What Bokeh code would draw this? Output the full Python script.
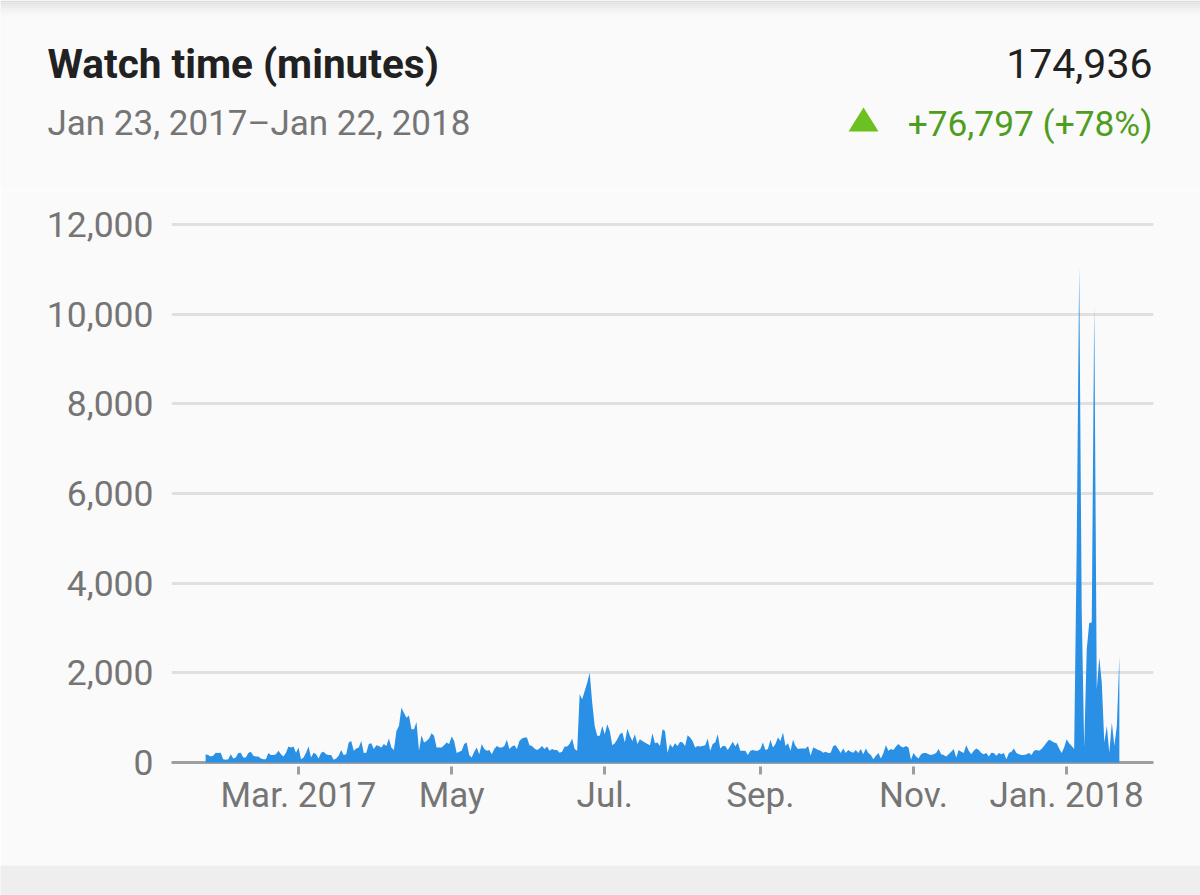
from bokeh.core.properties import value
from bokeh.embed import file_html
from bokeh.layouts import column
from bokeh.models import ColumnDataSource, FixedTicker, NumeralTickFormatter, Range1d
from bokeh.plotting import figure
from bokeh.resources import INLINE

title_text = "Watch time (minutes)"
date_text = "Jan 23, 2017\u2013Jan 22, 2018"
total_text = "174,936"
change_text = "+76,797 (+78%)"

y_ticks = [0, 2000, 4000, 6000, 8000, 10000, 12000]
# days since Jan 23, 2017
x_ticks = [37, 98, 159, 221, 282, 343]
x_labels = ["Mar. 2017", "May", "Jul.", "Sep.", "Nov.", "Jan. 2018"]

# daily watch time
watch_minutes = [
    185, 165, 135, 150, 220, 210, 220, 75, 60, 75,
    185, 90, 110, 210, 220, 110, 110, 210, 240, 150,
    135, 135, 90, 75, 75, 210, 165, 165, 185, 260,
    185, 135, 220, 355, 335, 355, 220, 335, 75, 110,
    220, 355, 110, 220, 185, 90, 220, 240, 185, 165,
    165, 60, 90, 150, 280, 165, 185, 445, 480, 260,
    310, 335, 480, 210, 220, 410, 430, 300, 385, 370,
    335, 410, 370, 535, 335, 280, 705, 815, 1220, 1110,
    1000, 1050, 740, 740, 905, 260, 610, 445, 480, 535,
    650, 595, 335, 335, 335, 385, 445, 410, 580, 480,
    210, 240, 260, 410, 445, 165, 110, 240, 335, 185,
    410, 300, 260, 280, 185, 300, 370, 335, 335, 370,
    505, 300, 355, 385, 300, 480, 535, 555, 555, 385,
    370, 310, 280, 310, 370, 300, 355, 260, 300, 280,
    280, 220, 240, 355, 355, 410, 535, 300, 260, 1520,
    1410, 1595, 1780, 2000,
    1335, 815, 595, 595, 815, 630, 855, 705, 385, 430,
    520, 630, 670, 445, 755, 595, 480, 630, 410, 520,
    480, 445, 410, 385, 650, 430, 445, 370, 740, 705,
    220, 410, 335, 430, 370, 460, 445, 370, 610, 555,
    480, 335, 370, 355, 370, 385, 535, 260, 410, 445,
    630, 310, 370, 370, 280, 370, 460, 355, 445, 260,
    260, 260, 165, 260, 280, 260, 260, 300, 445, 280,
    300, 505, 335, 410, 555, 480, 670, 370, 430, 260,
    505, 370, 300, 310, 310, 310, 370, 150, 335, 310,
    280, 260, 220, 240, 210, 220, 370, 385, 300, 210,
    310, 210, 280, 240, 220, 280, 210, 300, 185, 310,
    210, 165, 75, 150,
    210, 90, 210, 385, 260, 300, 280, 355, 410, 355,
    335, 370, 335, 60, 210, 135, 90, 185, 210, 210,
    185, 165, 185, 210, 300, 185, 165, 135, 185, 240,
    300, 110, 280, 240, 210, 385, 260, 185, 260, 310,
    280, 210, 185, 210, 135, 220,
    210, 150, 210, 185, 210, 75, 210, 240, 310, 210,
    185, 165, 165, 185, 210, 165, 260, 280, 260, 300,
    370, 445, 505, 480, 445, 430, 310, 210, 335, 520,
    430, 370, 300,
    4750, 11050, 3400, 335, 2520, 3110, 3120, 10200, 1630, 2340,
    1780, 445, 815, 220, 890, 370, 815, 2370,
]
days = list(range(len(watch_minutes)))

source = ColumnDataSource(data=dict(day=days, minutes=watch_minutes))

# header strip, in pixels of the page
head = figure(
    width=1200, height=190,
    x_range=Range1d(0, 1200), y_range=Range1d(190, 0),
    x_axis_location=None, y_axis_location=None,
    output_backend="svg", toolbar_location=None,
    min_border=0, background_fill_color="#fafafa", border_fill_color="#fafafa",
)
head.frame_align = False
head.grid.grid_line_color = None
head.outline_line_color = None

# shadow along the top edge
shades = ["#dedede", "#e3e3e3", "#e8e8e8", "#ececec", "#f0f0f0", "#f3f3f3", "#f6f6f6", "#f8f8f8"]
for i, shade in enumerate(shades):
    head.quad(left=0, right=1200, top=i * 2, bottom=i * 2 + 2, fill_color=shade, line_color=None)

head.text(x=[47], y=[63], text=[title_text], text_baseline="alphabetic", text_font=value("Roboto"),
          text_font_style="bold", text_font_size="40.5px", text_color="#212121")
head.text(x=[47], y=[123], text=[date_text], text_baseline="alphabetic", text_font=value("Roboto"),
          text_font_size="35px", text_color="#757575")
head.text(x=[1152], y=[63], text=[total_text], text_baseline="alphabetic", text_align="right",
          text_font=value("Roboto"), text_font_size="41px", text_color="#212121")
head.text(x=[1152], y=[123], text=[change_text], text_baseline="alphabetic", text_align="right",
          text_font=value("Roboto"), text_font_size="35.3px", text_color="#4f9d1e")
head.patch([848, 878, 863], [131, 131, 107], fill_color="#6cc01f", line_color=None)

p = figure(
    width=1200, height=675,
    x_range=Range1d(-13.6, 377.6), y_range=Range1d(0, 12400),
    output_backend="svg", toolbar_location=None,
    min_border_left=171, min_border_right=47, min_border_top=16, min_border_bottom=103,
    background_fill_color="#fafafa", border_fill_color="#fafafa",
)
p.frame_align = False
p.outline_line_color = None

p.xgrid.grid_line_color = None
p.ygrid.grid_line_color = "#e0e0e0"
p.ygrid.grid_line_width = 3
p.ygrid.ticker = FixedTicker(ticks=y_ticks)

p.yaxis.ticker = FixedTicker(ticks=y_ticks)
p.yaxis.formatter = NumeralTickFormatter(format="0,0")
p.yaxis.axis_line_color = None
p.yaxis.major_tick_line_color = None
p.yaxis.minor_tick_line_color = None
p.yaxis.major_tick_in = 0
p.yaxis.major_tick_out = 0
p.yaxis.major_label_standoff = 18
p.yaxis.major_label_text_font = "Roboto"
p.yaxis.major_label_text_font_size = "35.5px"
p.yaxis.major_label_text_color = "#757575"

p.xaxis.ticker = FixedTicker(ticks=x_ticks)
p.xaxis.major_label_overrides = dict(zip(x_ticks, x_labels))
p.xaxis.axis_line_color = "#9e9e9e"
p.xaxis.axis_line_width = 3
p.xaxis.major_tick_line_color = "#9e9e9e"
p.xaxis.major_tick_line_width = 3
p.xaxis.major_tick_in = -4
p.xaxis.major_tick_out = 12
p.xaxis.minor_tick_line_color = None
p.xaxis.major_label_standoff = 0
p.xaxis.major_label_text_font = "Roboto"
p.xaxis.major_label_text_font_size = "35px"
p.xaxis.major_label_text_color = "#757575"

p.varea(x="day", y1=0, y2="minutes", source=source, fill_color="#2a90e6", level="overlay")

# grey band below the card
band = figure(
    width=1200, height=30, x_axis_location=None, y_axis_location=None,
    output_backend="svg", toolbar_location=None,
    min_border=0, background_fill_color="#eeeeee", border_fill_color="#eeeeee",
)
band.frame_align = False
band.grid.grid_line_color = None
band.outline_line_color = None

page = column(head, p, band, spacing=0)

open("out.html", "w").write(file_html(page, INLINE))
